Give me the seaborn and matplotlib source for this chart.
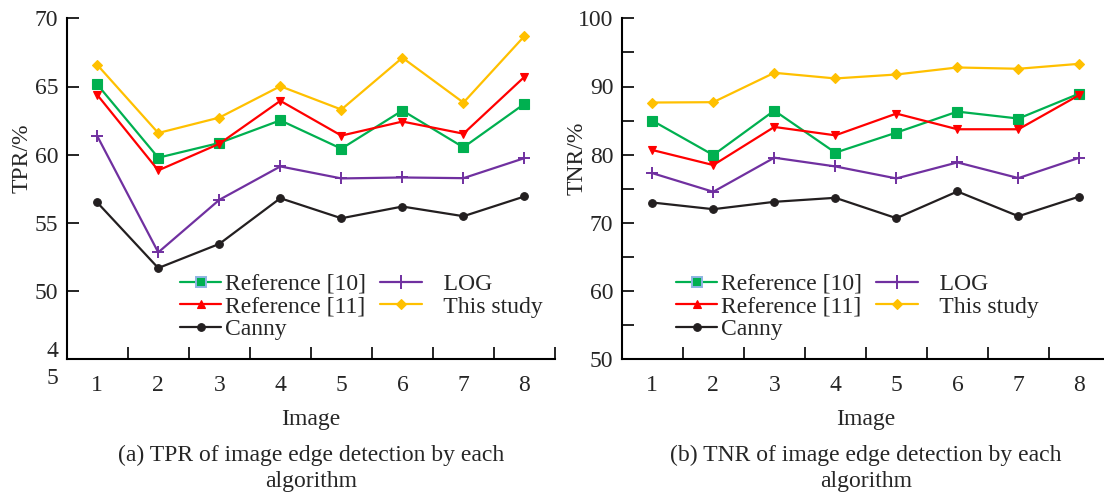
import matplotlib
matplotlib.use("Agg")
import matplotlib.pyplot as plt
from matplotlib.lines import Line2D
from matplotlib.ticker import MultipleLocator, FixedLocator
import seaborn as sns

# ---------------- data ----------------
images = [1, 2, 3, 4, 5, 6, 7, 8]
series_names = ["Reference [10]", "Reference [11]", "Canny", "LOG", "This study"]

tpr_ref10 = [65.15, 59.78, 60.86, 62.52, 60.44, 63.24, 60.54, 63.73]
tpr_ref11 = [64.39, 58.85, 60.80, 63.95, 61.40, 62.43, 61.54, 65.71]
tpr_canny = [56.50, 51.69, 53.46, 56.81, 55.34, 56.20, 55.49, 56.94]
tpr_log = [61.37, 52.84, 56.69, 59.14, 58.26, 58.33, 58.28, 59.75]
tpr_this = [66.59, 61.59, 62.72, 65.02, 63.31, 67.11, 63.82, 68.70]

tnr_ref10 = [85.00, 79.95, 86.47, 80.30, 83.24, 86.32, 85.30, 88.97]
tnr_ref11 = [80.69, 78.48, 84.07, 82.84, 86.03, 83.73, 83.73, 88.77]
tnr_canny = [72.99, 72.01, 73.09, 73.68, 70.69, 74.61, 70.98, 73.87]
tnr_log = [77.30, 74.56, 79.56, 78.28, 76.52, 78.87, 76.57, 79.56]
tnr_this = [87.65, 87.70, 92.01, 91.18, 91.76, 92.79, 92.60, 93.33]

tpr_ticks = [45, 50, 55, 60, 65, 70]
tpr_ticklabels = ["4\n5", "50", "55", "60", "65", "70"]
tnr_ticks = [50, 60, 70, 80, 90, 100]
tnr_ticklabels = ["50", "60", "70", "80", "90", "100"]

captions = [("(a) TPR of image edge detection by each", "algorithm"),
            ("(b) TNR of image edge detection by each", "algorithm")]
ylabels = ["TPR/%", "TNR/%"]

# ---------------- style ----------------
sns.set_style("ticks")
plt.rcParams["font.family"] = ["Liberation Serif", "DejaVu Serif"]
FS = 17

colors = {"Reference [10]": "#00B050", "Reference [11]": "#FF0000",
          "Canny": "#231F20", "LOG": "#7030A0", "This study": "#FFC000"}
markers = {"Reference [10]": "s", "Reference [11]": "v", "Canny": "o",
           "LOG": "+", "This study": "D"}
msizes = {"Reference [10]": 6.5, "Reference [11]": 6, "Canny": 5.5,
          "LOG": 9, "This study": 5.5}

fig = plt.figure(figsize=(11.04, 4.97), dpi=100)
H = 497.0
W = 1104.0
bottom = (H - 359.3) / H
height = (359.3 - 18.3) / H
axL = fig.add_axes([66.7 / W, bottom, 488.3 / W, height])
axR = fig.add_axes([621.7 / W, bottom, 488.3 / W, height])

data_sets = [
    [tpr_ref10, tpr_ref11, tpr_canny, tpr_log, tpr_this],
    [tnr_ref10, tnr_ref11, tnr_canny, tnr_log, tnr_this],
]

for i, (ax, vals) in enumerate(zip([axL, axR], data_sets)):
    for name, v in zip(series_names, vals):
        sns.lineplot(x=images, y=v, ax=ax, color=colors[name],
                     marker=markers[name], markersize=msizes[name],
                     markeredgecolor=colors[name],
                     markeredgewidth=1.4 if name == "LOG" else 0.8,
                     linewidth=1.6, legend=False)
    ax.set_xlim(0.5, 8.5)
    # x ticks: tick marks at boundaries, labels at category centers
    ax.xaxis.set_major_locator(FixedLocator([x + 0.5 for x in [0] + images]))
    ax.set_xticklabels([])
    ax.xaxis.set_minor_locator(FixedLocator(images))
    ax.set_xticklabels([str(x) for x in images], minor=True)
    ax.tick_params(axis="x", which="major", direction="in", length=8.3,
                   width=1.2, color="black")
    ax.tick_params(axis="x", which="minor", length=0, pad=11, labelsize=FS)
    ax.tick_params(axis="y", which="both", direction="in", length=8.3,
                   width=1.2, pad=6, labelsize=FS, color="black")
    for s in ["top", "right"]:
        ax.spines[s].set_visible(False)
    for s in ["left", "bottom"]:
        ax.spines[s].set_linewidth(1.5)
        ax.spines[s].set_color("black")

    ax.set_xlabel("Image", fontsize=FS)
    ax.xaxis.set_label_coords(0.5, -0.178)
    ax.xaxis.label.set_va("center")
    ax.set_ylabel(ylabels[i], fontsize=FS)
    ax.yaxis.set_label_coords(-0.092, 0.59)
    ax.yaxis.label.set_va("center")

    ax.text(0.5, -0.2806, captions[i][0], transform=ax.transAxes,
            ha="center", va="center", fontsize=FS)
    ax.text(0.5, -0.359, captions[i][1], transform=ax.transAxes,
            ha="center", va="center", fontsize=FS)

axL.set_ylim(45, 70)
axL.set_yticks(tpr_ticks)
axL.set_yticklabels(tpr_ticklabels, linespacing=1.4)

axR.set_ylim(50, 100)
axR.set_yticks(tnr_ticks)
axR.set_yticklabels(tnr_ticklabels)
axR.yaxis.set_minor_locator(MultipleLocator(5))

# legend proxies (legend shows up-pointing triangle & blue-edged square)
leg_markers = {"Reference [10]": "s", "Reference [11]": "^", "Canny": "o",
               "LOG": "+", "This study": "D"}
leg_ms = {"Reference [10]": 6.5, "Reference [11]": 6, "Canny": 5.5,
          "LOG": 10, "This study": 5.5}
leg_labels = ["Reference [10]", "Reference [11]", "Canny", "   LOG", "   This study"]


def make_handles():
    hs = []
    for name in series_names:
        mec = "#8DB4E2" if name == "Reference [10]" else colors[name]
        hs.append(Line2D([0], [0], color=colors[name], lw=1.6,
                         marker=leg_markers[name], markersize=leg_ms[name],
                         markerfacecolor=colors[name], markeredgecolor=mec,
                         markeredgewidth=1.4 if name in ("LOG", "Reference [10]") else 0.8))
    return hs


for ax, xa in [(axL, 0.232), (axR, 0.111)]:
    ax.legend(handles=make_handles(), labels=leg_labels, ncol=2,
              loc="upper left", bbox_to_anchor=(xa, 0.252), frameon=False,
              fontsize=FS, handlelength=1.75, handletextpad=0.17,
              columnspacing=0.6, labelspacing=0.05, borderpad=0,
              borderaxespad=0)

fig.savefig("out.png", dpi=100)
